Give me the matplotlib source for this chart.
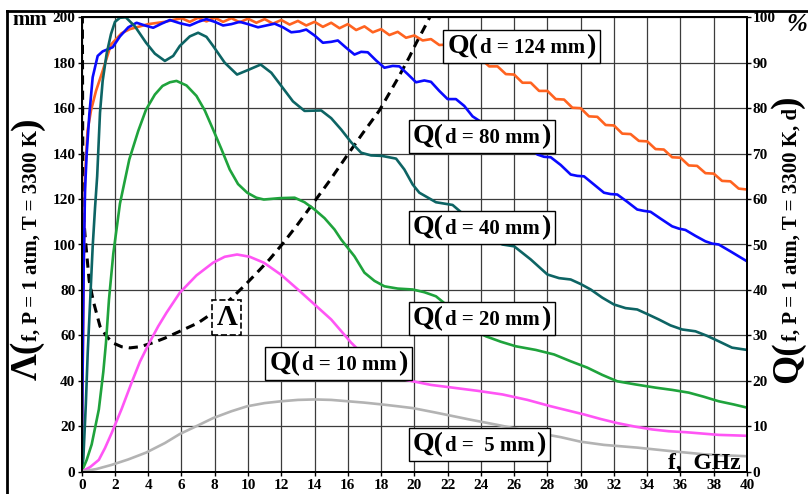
import matplotlib
matplotlib.use("Agg")
import matplotlib.pyplot as plt
from matplotlib.lines import Line2D
from matplotlib.offsetbox import TextArea, HPacker, AnnotationBbox

plt.rcParams["font.family"] = ["Liberation Serif", "DejaVu Serif"]
plt.rcParams["font.weight"] = "bold"

# ---- data (f in GHz, Q in %, Lambda in mm) ----
f_124 = [0, 0.05, 0.12, 0.2, 0.35, 0.56, 0.86, 1.26, 1.76, 2.4, 2.9, 3.5, 4.0, 5.0,
         6.0, 6.5, 7.0, 7.5, 8.0, 8.5, 9.0, 9.5, 10.0, 10.5, 11.0, 11.5, 12.0, 12.5,
         13.0, 13.5, 14.0, 14.5, 15.0, 15.5, 16.0, 16.5, 17.0, 17.5, 18.0, 18.5, 19.0,
         19.5, 20.0, 20.5, 21.0, 21.5, 22.0, 22.5, 23.0, 23.5, 24.0, 24.5, 25.0, 25.5,
         26.0, 26.5, 27.0, 27.5, 28.0, 28.5, 29.0, 29.5, 30.0, 30.5, 31.0, 31.5, 32.0,
         32.5, 33.0, 33.5, 34.0, 34.5, 35.0, 35.5, 36.0, 36.5, 37.0, 37.5, 38.0, 38.5,
         39.0, 39.5, 40.0]
q_124 = [0, 20, 45, 65, 75, 79.5, 83.8, 88.2, 94.0, 96.5, 97.4, 98.0, 98.5, 99.0,
         99.8, 99.0, 99.9, 99.1, 99.9, 99.0, 99.8, 98.9, 99.7, 98.8, 99.6, 98.6, 99.4, 98.4,
         99.2, 98.2, 99.0, 97.9, 98.8, 97.6, 98.5, 97.2, 98.0, 96.7, 97.4, 96.1, 96.8,
         95.5, 96.0, 94.9, 95.2, 93.9, 94.0, 92.5, 92.6, 90.9, 90.9, 89.2, 89.2, 87.5,
         87.4, 85.6, 85.6, 83.8, 83.8, 82.0, 81.9, 80.1, 80.0, 78.2, 78.1, 76.3, 76.2,
         74.4, 74.3, 72.8, 72.7, 71.0, 70.9, 69.2, 69.1, 67.4, 67.3, 65.7, 65.6, 64.0,
         63.9, 62.3, 62.1]

f_80 = [0, 0.05, 0.12, 0.2, 0.3, 0.46, 0.66, 0.96, 1.26, 1.86, 2.3, 2.8, 3.3, 3.8,
        4.3, 4.8, 5.3, 5.9, 6.5, 7.0, 7.5, 8.0, 8.5, 9.0, 9.5, 10.0, 10.6, 11.1, 11.6,
        12.1, 12.6, 13.1, 13.5, 14.0, 14.5, 15.0, 15.4, 15.9, 16.4, 16.8, 17.2, 17.7,
        18.2, 18.7, 19.1, 19.6, 20.1, 20.6, 21.0, 21.5, 22.0, 22.5, 23.0, 23.5, 24.0,
        24.5, 25.0, 25.5, 26.0, 26.5, 27.0, 27.4, 27.8, 28.2, 28.8, 29.4, 29.8, 30.2,
        30.8, 31.4, 31.8, 32.2, 32.8, 33.4, 33.8, 34.2, 34.8, 35.5, 35.9, 36.3, 36.9,
        37.5, 37.9, 38.3, 39.0, 39.5, 40.0]
q_80 = [0, 20, 45, 62, 70, 78.7, 86.8, 91.5, 92.5, 93.4, 95.8, 97.8, 98.8, 98.2,
        97.7, 98.6, 99.4, 98.7, 98.2, 99.0, 99.6, 99.0, 98.2, 98.5, 99.0, 98.5, 97.8, 98.2, 98.6,
        97.8, 96.7, 96.9, 97.3, 96.0, 94.4, 94.6, 94.9, 93.3, 91.8, 92.4, 92.3, 90.5,
        88.9, 89.3, 89.2, 87.5, 85.7, 86.1, 85.8, 83.8, 82.0, 82.0, 80.5, 78.2, 77.0,
        76.2, 75.5, 73.8, 72.5, 72.0, 71.3, 69.8, 69.3, 69.2, 67.5, 65.4, 65.1, 65.0,
        63.2, 61.4, 61.1, 61.0, 59.4, 57.7, 57.4, 57.2, 55.7, 54.0, 53.5, 53.2, 51.9,
        50.7, 50.2, 50.0, 48.5, 47.4, 46.3]

f_40 = [0, 0.1, 0.25, 0.36, 0.5, 0.66, 0.8, 0.93, 1.1, 1.26, 1.5, 1.76, 2.0, 2.3,
        2.65, 3.2, 3.87, 4.4, 5.0, 5.5, 5.9, 6.5, 7.0, 7.5, 7.9, 8.6, 9.34, 10.0, 10.76,
        11.4, 12.0, 12.7, 13.4, 14.4, 15.0, 15.6, 16.2, 16.8, 17.4, 18.05, 18.9, 19.4,
        19.9, 20.3, 21.3, 22.3, 23.0, 23.8, 24.5, 25.3, 26.0, 27.0, 28.0, 28.7, 29.4,
        30.0, 30.6, 31.3, 32.0, 32.7, 33.4, 34.0, 34.7, 35.4, 36.1, 36.9, 37.6, 38.3,
        39.1, 40.0]
q_40 = [0, 3, 15, 26, 37, 49.5, 58, 65, 79, 86, 92, 96.3, 99.0, 99.9,
        100.0, 98.0, 94.4, 92.0, 90.4, 91.5, 93.7, 95.8, 96.6, 95.7, 93.7, 90.0, 87.4, 88.4, 89.6,
        87.8, 84.9, 81.5, 79.4, 79.5, 77.8, 75.3, 72.5, 70.2, 69.6, 69.5, 68.9, 66.5,
        63.2, 61.4, 59.3, 58.7, 56.5, 53.5, 51.5, 50.0, 49.6, 46.7, 43.4, 42.6, 42.3,
        41.3, 40.1, 38.3, 36.8, 36.0, 35.7, 34.7, 33.5, 32.2, 31.3, 30.9, 29.9, 28.7,
        27.3, 26.8]

f_20 = [0, 0.3, 0.6, 1.03, 1.3, 1.46, 1.64, 1.9, 2.3, 2.86, 3.4, 3.87, 4.4, 4.86,
        5.3, 5.7, 6.3, 6.9, 7.4, 7.9, 8.4, 8.9, 9.4, 9.95, 10.5, 10.95, 11.9, 12.8, 13.4,
        14.0, 14.6, 15.2, 15.6, 16.4, 17.0, 17.6, 18.2, 19.0, 19.9, 20.6, 21.3, 22.0,
        22.7, 23.5, 24.3, 25.2, 26.1, 27.3, 28.4, 29.4, 30.4, 31.3, 32.2, 33.3, 34.5,
        35.5, 36.5, 37.4, 38.3, 39.2, 40.0]
q_20 = [0, 2.6, 6, 13.7, 22, 28.4, 37.9, 48, 59, 68.7, 75, 79.7, 83, 84.9,
        85.7, 86, 85, 82.7, 79.5, 75.3, 71, 66.5, 63.3, 61.4, 60.3, 59.9, 60.2, 60.3, 59.3,
        57.7, 55.8, 53.3, 51.1, 47.4, 43.8, 42, 40.8, 40.3, 40.1, 39.5, 38.6, 36.5,
        33.5, 31.3, 29.8, 28.6, 27.6, 26.8, 25.8, 24.3, 22.9, 21.3, 19.9, 19.2, 18.5,
        18.0, 17.4, 16.5, 15.5, 14.8, 14.1]

f_10 = [0, 0.5, 1.03, 1.4, 1.8, 2.4, 3.0, 3.5, 4.07, 4.6, 5.1, 5.9, 6.9, 7.9, 8.6,
        9.34, 10.1, 10.95, 12.0, 13.0, 14.0, 15.0, 16.2, 17.0, 18.0, 19.0, 19.9, 21.0,
        22.3, 23.8, 25.3, 26.8, 28.2, 29.2, 30.2, 31.2, 32.2, 33.3, 34.3, 35.3, 36.3,
        37.3, 38.3, 39.2, 40.0]
q_10 = [0, 1, 2.6, 5.2, 8.5, 13.8, 19.6, 24.2, 28.4, 32, 35, 39.4, 43.2, 46, 47.3,
        47.8, 47.3, 46, 43.3, 40.1, 36.8, 33.5, 28.4, 25.5, 22.5, 20.6, 19.9, 19.1,
        18.5, 17.8, 17.0, 15.8, 14.4, 13.5, 12.6, 11.6, 10.7, 9.9, 9.3, 8.9, 8.7,
        8.4, 8.1, 8.0, 7.9]

f_5 = [0, 0.9, 1.8, 2.8, 3.87, 5.0, 5.9, 7.0, 7.9, 9.0, 9.95, 11.0, 12.0, 13.0, 14.0,
       15.0, 16.0, 17.0, 18.05, 19.0, 19.9, 21.3, 23.3, 25.0, 27.0, 28.8, 30.0, 31.4,
       33.4, 35.5, 37.5, 40.0]
q_5 = [0, 0.6, 1.5, 2.7, 4.2, 6.3, 8.3, 10.2, 11.8, 13.3, 14.4, 15.1, 15.5, 15.8, 15.9,
       15.8, 15.5, 15.2, 14.8, 14.4, 14.0, 13.0, 11.5, 10.3, 8.8, 7.6, 6.6, 5.9,
       5.3, 4.5, 3.8, 3.4]

f_lam = [0.03, 0.06, 0.09, 0.2, 0.45, 0.7, 1.1, 1.5, 1.9, 2.4, 2.9, 3.5, 4.3, 5.0,
         5.9, 7.0, 7.9, 8.5, 9.1, 9.8, 10.5, 11.3, 12.1, 13.0, 13.9, 14.9, 15.9, 16.9,
         17.9, 19.0, 19.7, 20.1, 20.5, 20.9, 21.2]
lam = [230, 150, 115, 104, 84, 75, 64, 59.5, 56.6, 55, 54.5, 55, 56.8, 58.8,
       61.8, 65.5, 70, 73, 77, 82, 87.3, 93.5, 100.5, 109, 118, 128, 138.6, 149,
       159, 173, 182.5, 188.5, 194, 199.6, 204]

curves = [
    (f_124, q_124, "#ff6320", "124"),
    (f_80, q_80, "#0a0aff", "80"),
    (f_40, q_40, "#0d6464", "40"),
    (f_20, q_20, "#1fa33c", "20"),
    (f_10, q_10, "#ff55f5", "10"),
    (f_5, q_5, "#b3b3b3", " 5"),
]

W, H = 808, 494
fig = plt.figure(figsize=(W / 100, H / 100), dpi=100)
ax = fig.add_axes([81.7 / W, 1 - 471.7 / H, (747 - 81.7) / W, (471.7 - 17.3) / H])
ax2 = ax.twinx()

ax.set_xlim(0, 40)
ax.set_ylim(0, 200)
ax2.set_ylim(0, 100)
ax.set_xticks(range(0, 41, 2))
ax.set_yticks(range(0, 201, 20))
ax2.set_yticks(range(0, 101, 10))
ax.grid(True, color="#3c3c3c", lw=0.9)
ax.set_axisbelow(True)
ax.tick_params(axis="y", labelsize=11, length=3, width=1, pad=1.5)
ax.tick_params(axis="x", labelsize=11, length=3, width=1, pad=2)
ax2.tick_params(axis="y", labelsize=11, length=3, width=1, pad=1)
for a in (ax, ax2):
    for s in a.spines.values():
        s.set_linewidth(1.4)

# Lambda (mm, left axis)
ax.plot(f_lam, lam, color="black", lw=2.2, ls=(0, (3, 2)))

# Q curves (%, right axis)
for fx, qy, col, d in curves:
    ax2.plot(fx, qy, color=col, lw=1.9)


def qbox(x, y, d):
    parts = [TextArea("Q(", textprops=dict(fontsize=20, fontweight="bold")),
             TextArea("d = " + d + " mm", textprops=dict(fontsize=15, fontweight="bold")),
             TextArea(")", textprops=dict(fontsize=20, fontweight="bold"))]
    pack = HPacker(children=parts, align="baseline", pad=0, sep=1)
    ab = AnnotationBbox(pack, (x, y), xycoords="data", box_alignment=(0, 0.5),
                        frameon=True, pad=0.12,
                        bboxprops=dict(boxstyle="square", fc="white", ec="black", lw=1))
    ab.set_zorder(5)
    ax2.add_artist(ab)


qbox(22.0, 93.6, "124")
qbox(19.9, 73.8, "80")
qbox(19.9, 53.7, "40")
qbox(19.9, 33.7, "20")
qbox(11.3, 23.8, "10")
qbox(19.9, 6.0, " 5")

lam_box = AnnotationBbox(TextArea("Λ", textprops=dict(fontsize=21, fontweight="bold")),
                         (8.1, 33.9), xycoords="data", box_alignment=(0, 0.5),
                         frameon=True, pad=0.2,
                         bboxprops=dict(boxstyle="square", fc="white", ec="black",
                                        lw=1.2, ls="--"))
lam_box.set_zorder(5)
ax2.add_artist(lam_box)

ax2.text(39.6, -0.4, "f,  GHz", ha="right", va="bottom", fontsize=17, fontweight="bold")

fig.text(12 / W, 1 - 25 / H, "mm", ha="left", va="baseline", fontsize=15, fontweight="bold")
fig.text(786 / W, 1 - 31 / H, "%", ha="left", va="baseline", fontsize=18,
         fontweight="bold", style="italic")

renderer = fig.canvas.get_renderer()


def vlabel(x, y, parts):
    for s, size in parts:
        t = fig.text(x / W, y / H, s, fontsize=size, fontweight="bold", rotation=90,
                     rotation_mode="anchor", ha="left", va="baseline")
        y += t.get_window_extent(renderer).height


vlabel(37, 494 - 380, [("Λ(", 27), ("f, P = 1 atm, T = 3300 K", 15), (")", 27)])
vlabel(797, 494 - 383, [("Q(", 27), ("f, P = 1 atm, T = 3300 K, d", 15), (")", 27)])

# outer frame (only top and left edges fall inside the picture)
fig.add_artist(Line2D([7 / W, 7 / W], [0, 1 - 11 / H], transform=fig.transFigure,
                      color="black", lw=2))
fig.add_artist(Line2D([7 / W, 1], [1 - 11 / H, 1 - 11 / H], transform=fig.transFigure,
                      color="black", lw=2))

fig.savefig("out.png", dpi=100)
